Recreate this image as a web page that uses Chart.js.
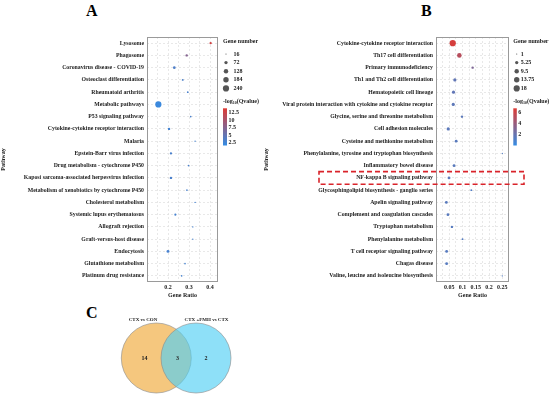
<!DOCTYPE html>
<html>
<head>
<meta charset="utf-8">
<script src="https://cdn.jsdelivr.net/npm/chart.js@4.4.1/dist/chart.umd.min.js"></script>
<style>
  body { margin: 0; background: #fff; width: 550px; height: 397px; position: relative; overflow: hidden; }
  canvas { position: absolute; }
  .tag { position: absolute; font: bold 16px "Liberation Serif", serif; color: #000; line-height: 16px; }
</style>
</head>
<body>
<div class="tag" style="left:86px;top:3px">A</div>
<div class="tag" style="left:421px;top:3px">B</div>
<div class="tag" style="left:86px;top:305px">C</div>
<canvas id="chartA" style="left:0;top:0;width:263px;height:300px" width="263" height="300"></canvas>
<canvas id="chartB" style="left:263px;top:0;width:287px;height:300px" width="287" height="300"></canvas>
<canvas id="venn" style="left:100px;top:300px;width:150px;height:97px" width="150" height="97"></canvas>
<script>
// ---- data: panel A (CTX vs CON) ----
const pathwaysA = ["Lysosome", "Phagosome", "Coronavirus disease - COVID-19", "Osteoclast differentiation",
  "Rheumatoid arthritis", "Metabolic pathways", "P53 signaling pathway", "Cytokine-cytokine receptor interaction",
  "Malaria", "Epstein-Barr virus infection", "Drug metabolism - cytochrome P450",
  "Kaposi sarcoma-associated herpesvirus infection", "Metabolism of xenobiotics by cytochrome P450",
  "Cholesterol metabolism", "Systemic lupus erythematosus", "Allograft rejection", "Graft-versus-host disease",
  "Endocytosis", "Glutathione metabolism", "Platinum drug resistance"];
const ratioA = [0.403, 0.289, 0.23, 0.27, 0.294, 0.154, 0.308, 0.205, 0.329, 0.214, 0.298,
  0.214, 0.29, 0.329, 0.235, 0.318, 0.318, 0.2, 0.281, 0.265];
const countA = [40, 42, 50, 30, 26, 240, 24, 42, 20, 40, 24, 44, 24, 20, 34, 20, 20, 60, 22, 22];
const qvalA = [13.0, 7.5, 3.6, 3.4, 3.2, 2.1, 3.2, 2.8, 3.0, 3.3, 3.2, 3.3, 3.1, 3.0, 3.0, 3.0, 3.0, 3.1, 3.0, 3.0];
const xTicksA = [0.2, 0.3, 0.4];
const sizeTicksA = [16, 72, 128, 184, 240];
const colorTicksA = [12.5, 10, 7.5, 5, 2.5];

// ---- data: panel B (CTX+FMH vs CTX) ----
const pathwaysB = ["Cytokine-cytokine receptor interaction", "Th17 cell differentiation", "Primary immunodeficiency",
  "Th1 and Th2 cell differentiation", "Hematopoietic cell lineage",
  "Viral protein interaction with cytokine and cytokine receptor", "Glycine, serine and threonine metabolism",
  "Cell adhesion molecules", "Cysteine and methionine metabolism",
  "Phenylalanine, tyrosine and tryptophan biosynthesis", "Inflammatory bowel disease", "NF-kappa B signaling pathway",
  "Glycosphingolipid biosynthesis - ganglio series", "Apelin signaling pathway", "Complement and coagulation cascades",
  "Tryptophan metabolism", "Phenylalanine metabolism", "T cell receptor signaling pathway", "Chagas disease",
  "Valine, leucine and isoleucine biosynthesis"];
const ratioB = [0.063, 0.088, 0.138, 0.071, 0.066, 0.065, 0.098, 0.046, 0.076, 0.25,
  0.068, 0.049, 0.133, 0.039, 0.045, 0.06, 0.1, 0.04, 0.04, 0.25];
const countB = [18, 10, 3, 5, 5, 5, 3, 5, 4, 1, 4, 4, 2, 4, 4, 3, 2, 4, 4, 1];
const qvalB = [6.4, 5.2, 3.0, 1.8, 1.8, 1.7, 1.6, 1.6, 1.5, 1.2, 1.5, 1.6, 1.2, 1.5, 1.5, 1.4, 1.3, 1.4, 1.4, 1.2];
const xTicksB = [0.05, 0.1, 0.15, 0.2, 0.25];
const sizeTicksB = [1, 5.25, 9.5, 13.75, 18];
const colorTicksB = [6, 4, 2];
const highlightB = "NF-kappa B signaling pathway";

// ---- data: panel C (Venn) ----
const vennSets = ["CTX vs CON", "CTX +FMH vs CTX"];
const vennCounts = [14, 3, 2]; // left only, shared, right only

const FONT = '"Liberation Serif", serif';
const LOW = [52, 140, 228], HIGH = [222, 58, 52];

function qColor(q, qmin, qmax) {
  const t = Math.max(0, Math.min(1, (q - qmin) / (qmax - qmin)));
  const c = LOW.map((v, i) => Math.round(v + (HIGH[i] - v) * t));
  return `rgb(${c[0]},${c[1]},${c[2]})`;
}
function sizeR(n, nmin, nmax) {
  const t = (n - nmin) / (nmax - nmin);
  return Math.sqrt(0.36 + (9.6 - 0.36) * t);
}

// legend + frame drawing for bubble panels
const panelDecor = {
  id: "panelDecor",
  afterDraw(chart) {
    const o = chart.options.plugins.panelDecor;
    const ctx = chart.ctx, a = chart.chartArea;
    ctx.save();
    ctx.strokeStyle = "#9a9a9a";
    ctx.lineWidth = 1;
    ctx.strokeRect(a.left + 0.5, a.top + 0.5, a.right - a.left - 1, a.bottom - a.top - 1);

    ctx.fillStyle = "#222";
    ctx.textBaseline = "middle";
    ctx.textAlign = "left";
    ctx.font = `bold 6px ${FONT}`;
    ctx.fillText("Gene number", o.x, 41);
    o.sizes.forEach((n, i) => {
      const y = 54 + i * 8.6;
      ctx.fillStyle = "#555";
      ctx.beginPath();
      ctx.arc(o.x + o.dotDx, y, sizeR(n, o.sizes[0], o.sizes[o.sizes.length - 1]), 0, Math.PI * 2);
      ctx.fill();
      ctx.fillStyle = "#222";
      ctx.fillText(String(n), o.x + o.textDx, y);
    });

    // colour bar title: -log10(Qvalue)
    ctx.fillText("-log", o.x, 101);
    let w = ctx.measureText("-log").width;
    ctx.font = `bold 4px ${FONT}`;
    ctx.fillText("10", o.x + w, 103);
    const w2 = ctx.measureText("10").width;
    ctx.font = `bold 6px ${FONT}`;
    ctx.fillText("(Qvalue)", o.x + w + w2, 101);

    const top = 108.3, bot = 145.5;
    const g = ctx.createLinearGradient(0, top, 0, bot);
    g.addColorStop(0, qColor(o.qmax, o.qmin, o.qmax));
    g.addColorStop(1, qColor(o.qmin, o.qmin, o.qmax));
    ctx.fillStyle = g;
    ctx.fillRect(o.x, top, o.barW, bot - top);
    ctx.fillStyle = "#222";
    o.colorTicks.forEach(v => {
      const y = bot - (v - o.qmin) / (o.qmax - o.qmin) * (bot - top);
      ctx.fillText(String(v), o.x + o.barW + 1.5, y);
    });

    if (o.highlight) {
      const ys = chart.scales.y;
      const yc = ys.getPixelForValue(ys.getLabels().indexOf(o.highlight));
      ctx.strokeStyle = "#d9232a";
      ctx.lineWidth = 1.6;
      ctx.setLineDash([5, 3]);
      ctx.strokeRect(56, yc - 6.3, a.right + 15 - 56, 12.6);
    }
    ctx.restore();
  }
};

function bubblePanel(id, pathways, ratios, counts, qvals, cfg) {
  const nmin = cfg.sizes[0], nmax = cfg.sizes[cfg.sizes.length - 1];
  const data = pathways.map((p, i) => ({ x: ratios[i], y: p, r: sizeR(counts[i], nmin, nmax) }));
  const colors = qvals.map(q => qColor(q, cfg.qmin, cfg.qmax));
  return new Chart(document.getElementById(id), {
    type: "bubble",
    data: { datasets: [{ data: data, backgroundColor: colors, borderWidth: 0, clip: false }] },
    options: {
      responsive: false,
      animation: false,
      events: [],
      layout: { autoPadding: false, padding: { top: 37, right: cfg.padRight, left: 0, bottom: 0 } },
      plugins: {
        legend: { display: false },
        tooltip: { enabled: false },
        panelDecor: cfg.decor
      },
      scales: {
        x: {
          type: "linear",
          min: cfg.xmin,
          max: cfg.xmax,
          afterBuildTicks: s => { s.ticks = cfg.grid.map(v => ({ value: v })); },
          afterFit: s => { s.height = 18; },
          grid: { color: "#e3e3e3", drawTicks: false, lineWidth: 0.8 },
          border: { display: false, dash: [2, 2] },
          ticks: {
            autoSkip: false, padding: 2, color: "#222", font: { family: FONT, size: 6, weight: "bold" },
            maxRotation: 0,
            callback: v => cfg.xTicks.some(t => Math.abs(t - v) < 1e-6) ? String(+v.toFixed(2)) : ""
          },
          title: { display: true, text: "Gene Ratio", color: "#222", padding: { top: 0, bottom: 1 },
                   font: { family: FONT, size: 6, weight: "bold" } }
        },
        y: {
          type: "category",
          labels: pathways,
          offset: true,
          afterFit: s => { s.width = cfg.yWidth; },
          grid: { color: "#e3e3e3", drawTicks: false, offset: false, lineWidth: 0.8 },
          border: { display: false, dash: [2, 2] },
          ticks: { autoSkip: false, padding: 3, color: "#222", font: { family: FONT, size: 5.8, weight: "bold" } },
          title: { display: true, text: "Pathway", color: "#222", padding: { top: 0, bottom: 0 },
                   font: { family: FONT, size: 6, weight: "bold" } }
        }
      }
    },
    plugins: [panelDecor]
  });
}

const gridA = [0.15, 0.2, 0.25, 0.3, 0.35, 0.4];
bubblePanel("chartA", pathwaysA, ratioA, countA, qvalA, {
  xmin: 0.1, xmax: 0.438, grid: gridA, xTicks: xTicksA, sizes: sizeTicksA,
  qmin: 1.6, qmax: 14.0, padRight: 45, yWidth: 147,
  decor: { x: 223, dotDx: 3, textDx: 10.5, barW: 4, sizes: sizeTicksA, colorTicks: colorTicksA, qmin: 1.6, qmax: 14.0 }
});

const gridB = [0.025, 0.05, 0.075, 0.1, 0.125, 0.15, 0.175, 0.2, 0.225, 0.25];
bubblePanel("chartB", pathwaysB, ratioB, countB, qvalB, {
  xmin: 0, xmax: 0.275, grid: gridB, xTicks: xTicksB, sizes: sizeTicksB,
  qmin: 0.03, qmax: 6.74, padRight: 41, yWidth: 173,
  decor: { x: 250.3, dotDx: 3.4, textDx: 7.4, barW: 3.5, sizes: sizeTicksB, colorTicks: colorTicksB,
           qmin: 0.03, qmax: 6.74, highlight: highlightB }
});

// ---- Venn diagram ----
const vennText = {
  id: "vennText",
  afterDraw(chart) {
    const ctx = chart.ctx, xs = chart.scales.x, ys = chart.scales.y;
    ctx.save();
    ctx.fillStyle = "#222";
    ctx.textAlign = "center";
    ctx.textBaseline = "middle";
    ctx.font = `bold 5px ${FONT}`;
    ctx.fillText(vennSets[0], xs.getPixelForValue(43), ys.getPixelForValue(20));
    ctx.fillText(vennSets[1], xs.getPixelForValue(106.5), ys.getPixelForValue(20));
    ctx.font = `bold 6px ${FONT}`;
    [44.5, 77.5, 106].forEach((x, i) => ctx.fillText(String(vennCounts[i]), xs.getPixelForValue(x), ys.getPixelForValue(58)));
    ctx.restore();
  }
};
new Chart(document.getElementById("venn"), {
  type: "bubble",
  data: {
    datasets: [
      { order: 2, data: [{ x: 56.3, y: 58, r: 35 }], backgroundColor: "rgb(245,199,126)", borderColor: "#8a8a8a", borderWidth: 0.6, clip: false },
      { order: 1, data: [{ x: 96, y: 58, r: 35 }], backgroundColor: "rgba(81,208,245,0.65)", borderColor: "#8a8a8a", borderWidth: 0.6, clip: false }
    ]
  },
  options: {
    responsive: false,
    animation: false,
    events: [],
    layout: { autoPadding: false, padding: 0 },
    plugins: { legend: { display: false }, tooltip: { enabled: false } },
    scales: {
      x: { type: "linear", display: false, min: 0, max: 150 },
      y: { type: "linear", display: false, min: 0, max: 97, reverse: true }
    }
  },
  plugins: [vennText]
});
</script>
</body>
</html>
